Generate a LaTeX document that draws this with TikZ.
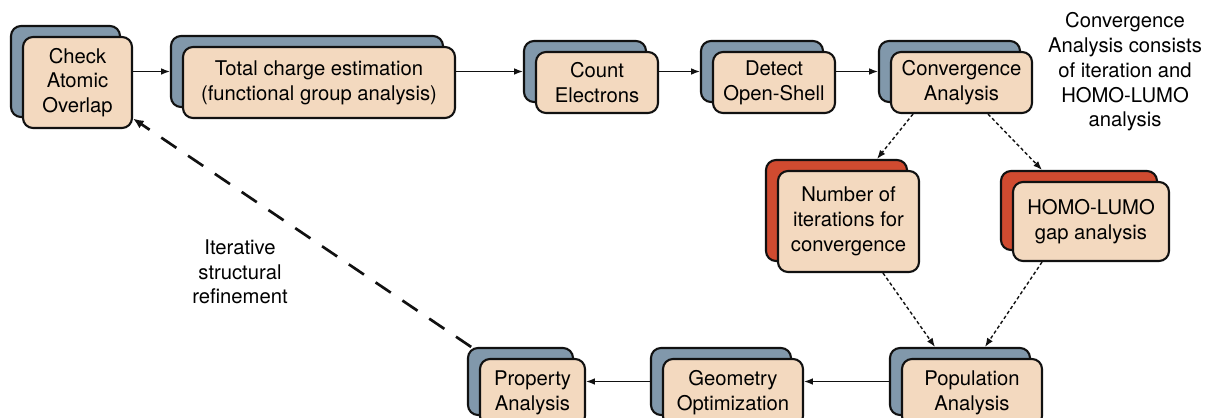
\documentclass[tikz,border=0pt]{standalone}
\usepackage{fontspec}
\setmainfont{TeX Gyre Heros}
\usepackage{xcolor}
\usepackage{tikz}
\usetikzlibrary{
  arrows.meta
}
\tikzset{
  >={Latex[length=6.3pt,width=4.8pt]},
  box text/.style={font=\fontsize{14.4}{17.6}\selectfont,align=center},
  card/.style={rectangle,rounded corners=2.5mm,line width=1.5pt,draw=ink,
    fill=peach,inner sep=0pt,box text},
  back card/.style={card,fill=slate},
  alert card/.style={card,fill=brick},
  main flow/.style={->,line width=1pt,draw=ink},
  branch flow/.style={->,line width=1pt,draw=ink,dash pattern=on 2.4pt off 1.8pt},
  feedback/.style={-{Latex[length=7.5pt,width=6.5pt]},line width=1.9pt,draw=ink,
    dash pattern=on 13pt off 10pt}
}
\definecolor{peach}{HTML}{F3D9BF}
\definecolor{slate}{HTML}{8198AB}
\definecolor{brick}{HTML}{D04B30}
\definecolor{ink}{HTML}{111111}

\begin{document}
\begin{tikzpicture}[x=1cm,y=1cm]
  \path[use as bounding box,clip] (0,0) rectangle (30.25,10.45);

  % top row
  \node[back card,minimum width=2.725cm,minimum height=2.275cm] (checkB) at (1.6375,8.6625) {};
  \node[card,minimum width=2.725cm,minimum height=2.275cm] (check) at (1.9375,8.3875)
    {Check\\Atomic\\Overlap};
  \node[back card,minimum width=6.8cm,minimum height=1.775cm] (chargeB) at (7.675,8.6625) {};
  \node[card,minimum width=6.8cm,minimum height=1.775cm] (charge) at (7.975,8.3875)
    {Total charge estimation\\(functional group analysis)};
  \node[back card,minimum width=3.05cm,minimum height=1.525cm] (countB) at (14.625,8.6625) {};
  \node[card,minimum width=3.05cm,minimum height=1.525cm] (count) at (14.925,8.3875)
    {Count\\Electrons};
  \node[back card,minimum width=3.05cm,minimum height=1.525cm] (shellB) at (19.05,8.6625) {};
  \node[card,minimum width=3.05cm,minimum height=1.525cm] (shell) at (19.35,8.3875)
    {Detect\\Open-Shell};
  \node[back card,minimum width=3.525cm,minimum height=1.525cm] (convB) at (23.7375,8.6625) {};
  \node[card,minimum width=3.525cm,minimum height=1.525cm] (conv) at (24.0375,8.3875)
    {Convergence\\Analysis};
  \node[box text] (note) at (28.125,8.65)
    {Convergence\\Analysis consists\\of iteration and\\HOMO-LUMO\\analysis};

  % convergence branches
  \node[alert card,minimum width=3.525cm,minimum height=2.525cm] (itersB) at (20.9125,5.1875) {};
  \node[card,minimum width=3.525cm,minimum height=2.525cm] (iters) at (21.2125,4.9125)
    {Number of\\iterations for\\convergence};
  \node[alert card,minimum width=3.9cm,minimum height=1.975cm] (gapB) at (26.975,5.1875) {};
  \node[card,minimum width=3.9cm,minimum height=1.975cm] (gap) at (27.275,4.9125)
    {HOMO-LUMO\\gap analysis};

  % bottom row
  \node[back card,minimum width=3.5cm,minimum height=1.675cm] (popB) at (24.0,0.9125) {};
  \node[card,minimum width=3.5cm,minimum height=1.675cm] (pop) at (24.3,0.6375)
    {Population\\Analysis};
  \node[back card,minimum width=3.5cm,minimum height=1.675cm] (geomB) at (18.025,0.9125) {};
  \node[card,minimum width=3.5cm,minimum height=1.675cm] (geom) at (18.325,0.6375)
    {Geometry\\Optimization};
  \node[back card,minimum width=2.625cm,minimum height=1.675cm] (propB) at (13.0125,0.9125) {};
  \node[card,minimum width=2.625cm,minimum height=1.675cm] (prop) at (13.3125,0.6375)
    {Property\\Analysis};

  \node[box text] (refine) at (6.0,3.65) {Iterative\\structural\\refinement};

  \draw[main flow] (check.east |- chargeB.west) -- (chargeB.west);
  \draw[main flow] (charge.east |- countB.west) -- (countB.west);
  \draw[main flow] (count.east |- shellB.west) -- (shellB.west);
  \draw[main flow] (shell.east |- convB.west) -- (convB.west);

  \draw[branch flow] ([xshift=-1.2125cm]conv.south) -- ([xshift=1.0125cm]itersB.north);
  \draw[branch flow] ([xshift=.6625cm]conv.south) -- ([xshift=-.925cm]gapB.north);
  \draw[branch flow] ([xshift=.8625cm]iters.south) -- ([xshift=-.625cm]popB.north);
  \draw[branch flow] ([xshift=-1.225cm]gap.south) -- ([xshift=.625cm]popB.north);

  \draw[main flow] (popB.west) -- (geom.east |- popB.west);
  \draw[main flow] (geomB.west) -- (prop.east |- geomB.west);

  \draw[feedback] (propB.145) -- (check.-33);
\end{tikzpicture}
\end{document}
